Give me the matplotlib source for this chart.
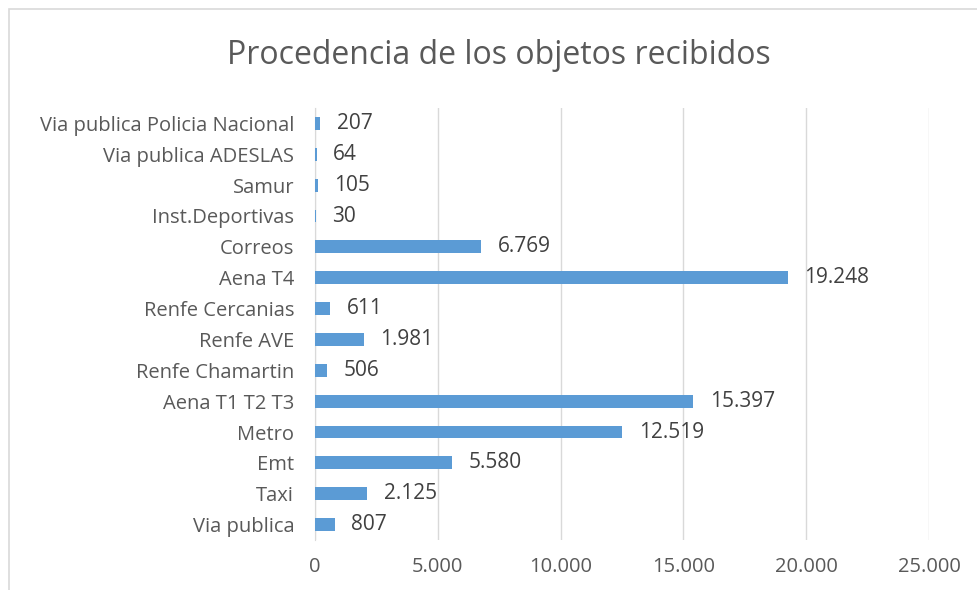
import matplotlib
matplotlib.use("Agg")
import matplotlib.pyplot as plt
from matplotlib.patches import Rectangle

categories = ["Via publica", "Taxi", "Emt", "Metro", "Aena T1 T2 T3", "Renfe Chamartin",
              "Renfe AVE", "Renfe Cercanias", "Aena T4", "Correos", "Inst.Deportivas",
              "Samur", "Via publica ADESLAS", "Via publica Policia Nacional"]
values = [807, 2125, 5580, 12519, 15397, 506, 1981, 611, 19248, 6769, 30, 105, 64, 207]
xticks = [0, 5000, 10000, 15000, 20000, 25000]
title = "Procedencia de los objetos recibidos"

def fmt(v):
    return f"{v:,}".replace(",", ".")

plt.rcParams['font.family'] = ['Open Sans', 'DejaVu Sans']
txt = '#595959'

fig = plt.figure(figsize=(9.78, 5.9), dpi=100)
fig.patches.append(Rectangle((9/978, -0.01), 1.0, 1 - 9/590 + 0.01, transform=fig.transFigure,
                             fill=False, edgecolor='#D9D9D9', linewidth=1.2))
ax = fig.add_axes([315/978, 50/590, 614/978, 432/590])
y = list(range(len(categories)))
ax.barh(y, values, height=0.42, color='#5B9BD5', zorder=3)
ax.set_xlim(0, 25000)
ax.set_ylim(-0.5, len(categories) - 0.5)
ax.set_yticks(y)
ax.set_yticklabels(categories, fontsize=14.5, color=txt)
ax.set_xticks(xticks)
ax.set_xticklabels([fmt(v) for v in xticks], fontsize=14.5, color=txt)
ax.grid(axis='x', color='#D9D9D9', linewidth=1, zorder=0)
for s in ['top', 'right', 'bottom']:
    ax.spines[s].set_visible(False)
ax.spines['left'].set_color('#D9D9D9')
ax.tick_params(axis='y', length=0, pad=15)
ax.tick_params(axis='x', length=0, pad=12)
for yi, v in zip(y, values):
    ax.annotate(fmt(v), (v, yi), xytext=(12, 0), textcoords='offset points',
                va='center', ha='left', fontsize=15, color='#404040')
fig.text(0.51, 1 - 55/590, title, ha='center', va='center', fontsize=23, color=txt)
fig.savefig("out.png", dpi=100)
